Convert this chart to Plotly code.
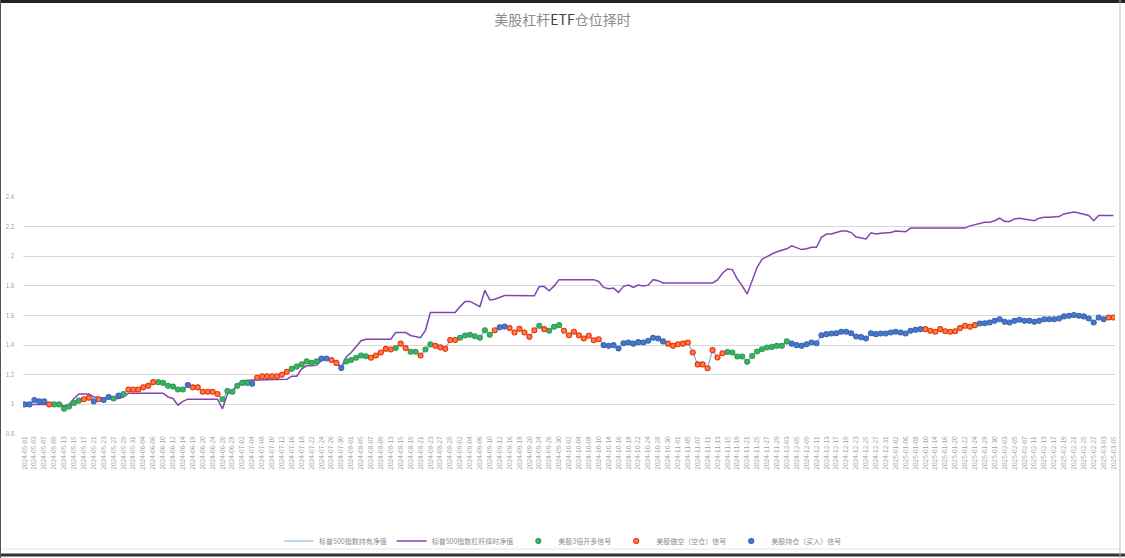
import pandas as pd
import plotly.graph_objects as go

# ---- data ----
index_nav = [
    1.00, 1.00, 1.03, 1.02, 1.02, 1.00, 1.00, 1.00, 0.97, 0.985,
    1.01, 1.025, 1.035, 1.045, 1.02, 1.035, 1.03, 1.05, 1.04, 1.06,
    1.07, 1.10, 1.10, 1.10, 1.115, 1.125, 1.15, 1.15, 1.145, 1.125,
    1.12, 1.10, 1.10, 1.13, 1.115, 1.115, 1.085, 1.085, 1.085, 1.07,
    1.035, 1.09, 1.085, 1.125, 1.145, 1.145, 1.14, 1.18, 1.19, 1.19,
    1.19, 1.19, 1.20, 1.22, 1.24,
    1.255, 1.27, 1.29, 1.28, 1.29, 1.31, 1.31, 1.30, 1.28, 1.245,
    1.29, 1.30, 1.315, 1.33, 1.325, 1.315, 1.33, 1.35, 1.375, 1.37,
    1.38, 1.41, 1.38, 1.355, 1.355, 1.33, 1.37, 1.405, 1.395, 1.385,
    1.375, 1.435, 1.435, 1.45, 1.465, 1.47, 1.46, 1.45, 1.50, 1.47,
    1.50, 1.52, 1.525, 1.515, 1.485, 1.51, 1.485,
    1.456, 1.50, 1.53, 1.508, 1.497, 1.524, 1.535, 1.497, 1.467, 1.49,
    1.467, 1.445, 1.463, 1.433, 1.44, 1.40, 1.395, 1.40, 1.377, 1.413,
    1.418, 1.41, 1.42, 1.418, 1.43, 1.45, 1.445, 1.425, 1.41, 1.395,
    1.406, 1.41, 1.418, 1.35, 1.27, 1.27, 1.244, 1.366, 1.316, 1.345,
    1.354, 1.35, 1.323, 1.323, 1.287, 1.327, 1.357, 1.372, 1.384, 1.388,
    1.395, 1.395, 1.425, 1.41, 1.40, 1.395,
    1.406, 1.418, 1.413, 1.467, 1.474, 1.478, 1.48, 1.49, 1.49, 1.48,
    1.458, 1.454, 1.445, 1.48, 1.474, 1.478, 1.478, 1.485, 1.49, 1.485,
    1.478, 1.497, 1.503, 1.508, 1.508, 1.497, 1.49, 1.508, 1.494, 1.49,
    1.494, 1.515, 1.53, 1.524, 1.535, 1.546, 1.548, 1.553, 1.564, 1.575,
    1.557, 1.553, 1.564, 1.571, 1.564, 1.564, 1.557, 1.564, 1.575, 1.575,
    1.575, 1.58, 1.594, 1.598, 1.603, 1.598, 1.594, 1.58, 1.553, 1.587,
    1.575, 1.587, 1.587,
]

lev_nav = [
    1.00, 1.00, 1.00, 1.00, 1.00, 1.00, 1.00, 1.00, 0.99, 1.00,
    1.04, 1.07, 1.07, 1.07, 1.05, 1.045, 1.04, 1.04, 1.04, 1.04,
    1.05, 1.075, 1.075, 1.075, 1.075, 1.075, 1.075, 1.075, 1.075, 1.05,
    1.04, 0.995, 1.02, 1.035, 1.035, 1.035, 1.035, 1.035, 1.035, 1.035,
    0.97, 1.07, 1.09, 1.13, 1.16, 1.165, 1.165, 1.165, 1.165, 1.165,
    1.165, 1.165, 1.165, 1.17, 1.19,
    1.19, 1.24, 1.26, 1.26, 1.265, 1.295, 1.315, 1.30, 1.285, 1.25,
    1.32, 1.35, 1.39, 1.43, 1.44, 1.44, 1.44, 1.44, 1.44, 1.44,
    1.485, 1.485, 1.485, 1.465, 1.455, 1.45, 1.50, 1.62, 1.62, 1.62,
    1.62, 1.62, 1.62, 1.66, 1.695, 1.695, 1.68, 1.66, 1.77, 1.705,
    1.71, 1.72, 1.735, 1.735, 1.735, 1.735, 1.735,
    1.733, 1.733, 1.795, 1.795, 1.767, 1.80, 1.842, 1.842, 1.842, 1.842,
    1.842, 1.842, 1.842, 1.842, 1.83, 1.79, 1.78, 1.785, 1.756, 1.797,
    1.805, 1.79, 1.805, 1.80, 1.805, 1.842, 1.835, 1.82, 1.82, 1.82,
    1.82, 1.82, 1.82, 1.82, 1.82, 1.82, 1.82, 1.82, 1.84, 1.885,
    1.914, 1.91, 1.846, 1.80, 1.745, 1.835, 1.925, 1.98, 2.00, 2.015,
    2.03, 2.04, 2.05, 2.07, 2.06, 2.045,
    2.05, 2.06, 2.06, 2.128, 2.15, 2.15, 2.16, 2.17, 2.17, 2.16,
    2.13, 2.125, 2.117, 2.158, 2.15, 2.155, 2.158, 2.16, 2.17, 2.17,
    2.165, 2.19, 2.19, 2.19, 2.19, 2.19, 2.19, 2.19, 2.19, 2.19,
    2.19, 2.19, 2.19, 2.205, 2.215, 2.223, 2.23, 2.23, 2.24, 2.257,
    2.235, 2.235, 2.252, 2.257, 2.252, 2.248, 2.24, 2.257, 2.264, 2.264,
    2.264, 2.268, 2.286, 2.293, 2.298, 2.292, 2.286, 2.275, 2.24, 2.275,
    2.275, 2.275, 2.275,
]

# G = 3x long signal, R = short (flat) signal, B = hold (buy) signal
signal = list(
    "BBBBBRGGGGGGRRBRBBGBGRRRRRRGGGGGGBRRRRRRGGGGGGBRRRRRRRG"
    "GGGGGBBRRBGGGGGRRRRRGRRGGRGGRRRRRGGGGGGGRBBRRRR"
    "RRGRGGGRRRRRRRRBBBBBBBBBBBBBRRRRRRRRRRRRGGGGGGGGGGGGGBBBB"
    "BBBBBBBBBBBBBBBBBBBBBBBRRRRRRRRRRRBBBBBBBBBBBBBBBBBBBBBBBBBBRRR"
)

dates = [d.strftime("%Y-%m-%d") for d in pd.bdate_range("2024-05-01", periods=len(index_nav))]

series_names = [
    "标普500指数持有净值",
    "标普500指数杠杆择时净值",
    "美股3倍开多信号",
    "美股做空（空仓）信号",
    "美股持仓（买入）信号",
]
title_text = "美股杠杆<span style='color:#404040'>ETF</span>仓位择时"

# ---- figure ----
FONT = "Noto Sans CJK SC, Noto Sans, sans-serif"
fig = go.Figure()

fig.add_trace(go.Scatter(
    x=dates, y=index_nav, mode="lines", name=series_names[0],
    line=dict(color="#7FAEDF", width=1.2),
))
fig.add_trace(go.Scatter(
    x=dates, y=lev_nav, mode="lines", name=series_names[1],
    line=dict(color="#8045B0", width=1.5),
))

marker_styles = {
    "G": dict(name=series_names[2], color="#3DB267", line="#2F9E55"),
    "R": dict(name=series_names[3], color="#FF7A45", line="#E8340C"),
    "B": dict(name=series_names[4], color="#4A78C8", line="#3A66B5"),
}
for code in ["G", "R", "B"]:
    st = marker_styles[code]
    xs = [d for d, s in zip(dates, signal) if s == code]
    ys = [v for v, s in zip(index_nav, signal) if s == code]
    fig.add_trace(go.Scatter(
        x=xs, y=ys, mode="markers", name=st["name"],
        marker=dict(size=5, color=st["color"], line=dict(color=st["line"], width=1.1)),
    ))

n = len(dates)
L, R, T, B = 23, 10, 197, 124
W, H = 1125, 558
pw, ph = W - L - R, H - T - B

def px_x(px):
    return (px - L) / pw

def px_y(py):
    return (H - B - py) / ph

shapes = [
    dict(type="line", xref="paper", yref="paper", x0=px_x(0), x1=px_x(W), y0=px_y(1.5), y1=px_y(1.5),
         line=dict(color="#222222", width=3)),
    dict(type="line", xref="paper", yref="paper", x0=px_x(0), x1=px_x(W), y0=px_y(555), y1=px_y(555),
         line=dict(color="#333333", width=3)),
    dict(type="line", xref="paper", yref="paper", x0=px_x(2), x1=px_x(1120), y0=px_y(549), y1=px_y(549),
         line=dict(color="#E4E4E4", width=1)),
    dict(type="line", xref="paper", yref="paper", x0=px_x(0.5), x1=px_x(0.5), y0=px_y(0), y1=px_y(H),
         line=dict(color="#555555", width=1)),
    dict(type="line", xref="paper", yref="paper", x0=px_x(1120), x1=px_x(1120), y0=px_y(0), y1=px_y(H),
         line=dict(color="#BBBBBB", width=1)),
]

fig.update_layout(
    width=W, height=H,
    margin=dict(l=L, r=R, t=T, b=B, autoexpand=False),
    paper_bgcolor="white", plot_bgcolor="white",
    font=dict(family=FONT, color="#8C8C8C", size=7),
    title=dict(text=title_text, x=0.5, xanchor="center", y=1 - 20 / H, yanchor="middle",
               font=dict(family=FONT, size=14, color="#8C8C8C")),
    showlegend=True,
    legend=dict(orientation="h", xref="container", yref="container",
                x=563 / W, xanchor="center", y=1 - 541 / H, yanchor="middle",
                font=dict(size=7, color="#8C8C8C"), itemwidth=30, bgcolor="rgba(0,0,0,0)"),
    shapes=shapes,
)

fig.update_xaxes(
    type="category", range=[-0.3, n - 0.7], automargin=False,
    tickmode="array", tickvals=dates[::2], ticktext=dates[::2],
    tickangle=-90, tickfont=dict(size=6.5, color="#A0A0A0"),
    showgrid=False, showline=False, zeroline=False, ticks="",
)
fig.update_yaxes(
    range=[0.8, 2.4], dtick=0.2, tick0=0.8, automargin=False,
    showgrid=True, gridcolor="#D9D9D9", gridwidth=1,
    zeroline=False, showline=False, ticks="",
    tickfont=dict(size=6, color="#A0A0A0"), ticklabelstandoff=8,
)

page_fix = (
    "document.documentElement.style.overflow='hidden';"
    "document.body.style.margin='0';"
    "document.body.style.padding='0';"
    "document.body.style.overflow='hidden';"
)

fig.write_html(
    "out.html",
    config={"displayModeBar": False},
    post_script=page_fix,
)
